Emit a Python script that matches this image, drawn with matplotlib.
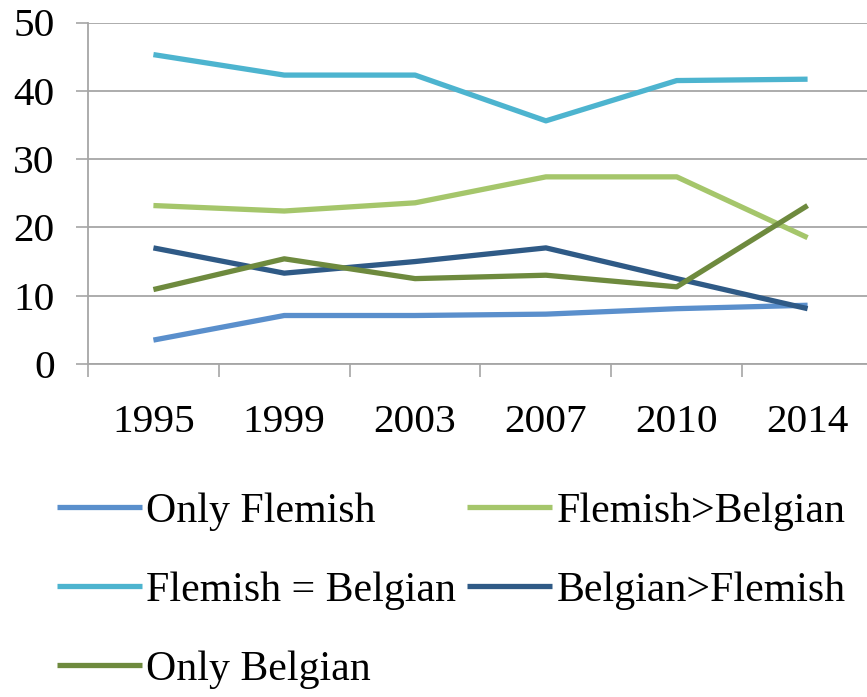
import matplotlib
matplotlib.use("Agg")
import matplotlib.pyplot as plt
import numpy as np

years = ["1995", "1999", "2003", "2007", "2010", "2014"]
only_flemish = [3.5, 7.1, 7.1, 7.3, 8.1, 8.6]
flemish_gt_belgian = [23.2, 22.4, 23.6, 27.4, 27.4, 18.5]
flemish_eq_belgian = [45.3, 42.3, 42.3, 35.6, 41.5, 41.7]
belgian_gt_flemish = [17.0, 13.3, 15.0, 17.0, 12.5, 8.1]
only_belgian = [10.9, 15.4, 12.5, 13.0, 11.3, 23.2]
yticks = [0, 10, 20, 30, 40, 50]

plt.rcParams['font.family'] = ['Liberation Serif', 'DejaVu Serif']

fig = plt.figure(figsize=(8.67, 6.97), dpi=100)
ax = fig.add_axes([88/867, 1-364/697, (873-88)/867, (364-22.5)/697])

x = np.arange(len(years))
lw = 3.8
h1, = ax.plot(x, only_flemish, color="#5A8FCC", lw=lw, label="Only Flemish", solid_capstyle='butt')
h2, = ax.plot(x, flemish_gt_belgian, color="#A5C66B", lw=lw, label="Flemish>Belgian", solid_capstyle='butt')
h3, = ax.plot(x, flemish_eq_belgian, color="#4DB4CF", lw=lw, label="Flemish = Belgian", solid_capstyle='butt')
h4, = ax.plot(x, belgian_gt_flemish, color="#2F5A86", lw=lw, label="Belgian>Flemish", solid_capstyle='butt')
h5, = ax.plot(x, only_belgian, color="#6E8A3E", lw=lw, label="Only Belgian", solid_capstyle='butt')

ax.set_xlim(-0.5, len(years) - 0.5)
ax.set_ylim(0, 50)
ax.set_yticks(yticks)
ax.set_yticklabels([str(v) for v in yticks])
ax.yaxis.grid(True, color="#A6A6A6", lw=1.3)
ax.set_axisbelow(True)

ax.set_xticks(x)
ax.set_xticklabels(years)
ax.set_xticks(np.arange(-0.5, len(years) - 0.5, 1.0), minor=True)
ax.tick_params(axis='x', which='major', length=0, pad=29, labelsize=29.7)
ax.tick_params(axis='x', which='minor', length=9, width=1.2, color="#A6A6A6", direction='out')
ax.tick_params(axis='y', length=9, width=1.2, color="#A6A6A6", pad=15, labelsize=29.7)

for s in ['top', 'right']:
    ax.spines[s].set_visible(False)
for s in ['left', 'bottom']:
    ax.spines[s].set_color("#A6A6A6")
    ax.spines[s].set_linewidth(1.3)

handles = [h1, h3, h5, h2, h4]
fig.legend(handles=handles, labels=[h.get_label() for h in handles],
           loc='upper left', bbox_to_anchor=(57/867, 1-492.5/697), ncol=2,
           frameon=False, fontsize=30.2, handlelength=2.03, handletextpad=0.1,
           columnspacing=0.26, labelspacing=0.96, borderpad=0, borderaxespad=0)

fig.savefig("out.png", dpi=100)
